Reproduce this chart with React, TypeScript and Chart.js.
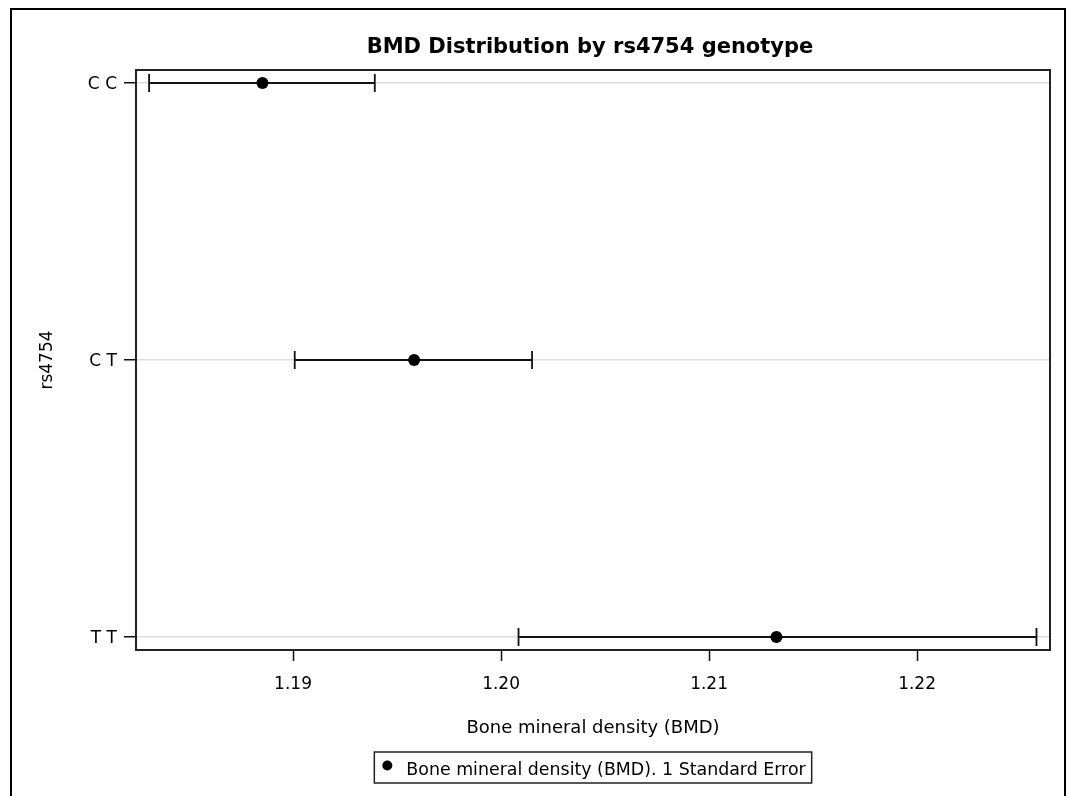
import { useEffect, useRef } from "react";
import { Chart, registerables } from "chart.js";

Chart.register(...registerables);

// ---- data ----
const genotypes = ["C C", "C T", "T T"];
const bmdMean = [1.18853, 1.19582, 1.21324];
const bmdLower = [1.18308, 1.19008, 1.20084];
const bmdUpper = [1.19393, 1.20149, 1.22574];
const xTickValues = [1.19, 1.2, 1.21, 1.22];
const xRange = [1.18245, 1.22639];
const yRange = [-0.047, 2.047];

const titleText = "BMD Distribution by rs4754 genotype";
const xTitleText = "Bone mineral density (BMD)";
const yTitleText = "rs4754";
const legendText = "Bone mineral density (BMD). 1 Standard Error";

const FONT = "'DejaVu Sans', sans-serif";
const INK = "#111";

const decorPlugin = {
  id: "decor",
  beforeDatasetsDraw(chart: any) {
    const ctx = chart.ctx;
    const xs = chart.scales.x;
    const ys = chart.scales.y;
    ctx.save();
    ctx.strokeStyle = INK;
    ctx.lineWidth = 1.8;
    genotypes.forEach((_, i) => {
      const y = ys.getPixelForValue(i);
      const x1 = xs.getPixelForValue(bmdLower[i]);
      const x2 = xs.getPixelForValue(bmdUpper[i]);
      ctx.beginPath();
      ctx.moveTo(x1, y);
      ctx.lineTo(x2, y);
      ctx.moveTo(x1, y - 9);
      ctx.lineTo(x1, y + 9);
      ctx.moveTo(x2, y - 9);
      ctx.lineTo(x2, y + 9);
      ctx.stroke();
    });
    ctx.restore();
  },
  afterDraw(chart: any) {
    const ctx = chart.ctx;
    const a = chart.chartArea;
    const cx = (a.left + a.right) / 2;
    ctx.save();
    // outer frame
    ctx.strokeStyle = "#000";
    ctx.lineWidth = 2;
    ctx.strokeRect(11, 9, 1054, 830);
    // plot frame
    ctx.strokeStyle = "#222";
    ctx.lineWidth = 2;
    ctx.strokeRect(a.left, a.top, a.right - a.left, a.bottom - a.top);

    ctx.fillStyle = "#000";
    // title
    ctx.font = `bold 21px ${FONT}`;
    ctx.textAlign = "center";
    ctx.textBaseline = "alphabetic";
    ctx.fillText(titleText, cx - 3, 53);

    // x title
    ctx.font = `18px ${FONT}`;
    ctx.fillText(xTitleText, cx, 733);

    // y title
    ctx.save();
    ctx.translate(52, (a.top + a.bottom) / 2);
    ctx.rotate(-Math.PI / 2);
    ctx.font = `17px ${FONT}`;
    ctx.textAlign = "center";
    ctx.fillText(yTitleText, 0, 0);
    ctx.restore();

    // legend
    ctx.font = `17.4px ${FONT}`;
    const tw = ctx.measureText(legendText).width;
    const boxW = 32 + tw + 6;
    const boxL = cx - boxW / 2;
    const boxT = 752;
    const boxH = 31;
    ctx.strokeStyle = "#222";
    ctx.lineWidth = 1.5;
    ctx.strokeRect(boxL, boxT, boxW, boxH);
    ctx.beginPath();
    ctx.arc(boxL + 13, boxT + 13.5, 5, 0, Math.PI * 2);
    ctx.fill();
    ctx.textAlign = "left";
    ctx.fillText(legendText, boxL + 32, boxT + 23);
    ctx.restore();
  },
};

export default function App() {
  const ref = useRef<HTMLCanvasElement | null>(null);
  useEffect(() => {
    if (!ref.current) return;
    const chart = new Chart(ref.current, {
      type: "scatter",
      data: {
        datasets: [
          {
            label: legendText,
            data: bmdMean.map((v, i) => ({ x: v, y: i })),
            backgroundColor: "#000",
            borderColor: "#000",
            pointRadius: 6,
            pointBorderWidth: 0,
          },
        ],
      },
      options: {
        animation: false,
        responsive: false,
        events: [],
        layout: { padding: { top: 70, right: 19, bottom: 0, left: 0 } },
        plugins: {
          legend: { display: false },
          title: { display: false },
          tooltip: { enabled: false },
        },
        scales: {
          x: {
            type: "linear",
            min: xRange[0],
            max: xRange[1],
            afterBuildTicks: (s: any) => {
              s.ticks = xTickValues.map((v) => ({ value: v }));
            },
            afterFit: (s: any) => {
              s.height = 146;
            },
            ticks: {
              callback: (v: any) => Number(v).toFixed(2),
              font: { family: FONT, size: 17 },
              color: "#000",
              padding: 13,
              maxRotation: 0,
              autoSkip: false,
            },
            grid: {
              drawOnChartArea: false,
              tickColor: INK,
              tickLength: 11,
              tickWidth: 1.5,
            },
            border: { display: false },
          },
          y: {
            type: "linear",
            reverse: true,
            min: yRange[0],
            max: yRange[1],
            afterBuildTicks: (s: any) => {
              s.ticks = genotypes.map((_, i) => ({ value: i }));
            },
            afterFit: (s: any) => {
              s.width = 136;
            },
            ticks: {
              callback: (v: any) => genotypes[Math.round(Number(v))] ?? "",
              font: { family: FONT, size: 17 },
              color: "#000",
              padding: 7,
              labelOffset: 1.5,
              autoSkip: false,
            },
            grid: {
              color: "#dedede",
              lineWidth: 1.5,
              tickColor: INK,
              tickLength: 12,
              tickWidth: 1.5,
            },
            border: { display: false },
          },
        },
      },
      plugins: [decorPlugin],
    });
    return () => chart.destroy();
  }, []);
  return (
    <div style={{ position: "absolute", left: 0, top: 0, width: 1069, height: 796 }}>
      <canvas ref={ref} width={1069} height={796} style={{ display: "block" }} />
    </div>
  );
}
